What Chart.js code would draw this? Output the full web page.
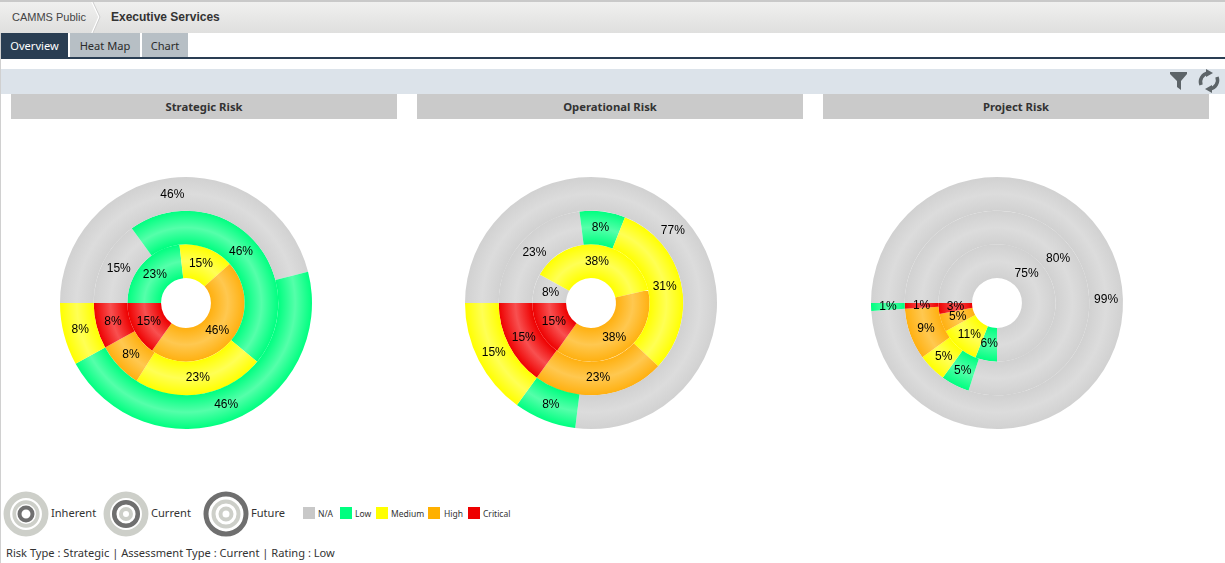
<!DOCTYPE html>
<html>
<head>
<meta charset="utf-8">
<title>Executive Services</title>
<script src="https://cdn.jsdelivr.net/npm/chart.js@4"></script>
<style>
html, body { margin: 0; padding: 0; background: #fff; overflow: hidden; }
body { width: 1225px; height: 563px; position: relative; font-family: "Noto Sans", sans-serif; color: #333; }
.abs { position: absolute; white-space: nowrap; }
.topbar { left: 0; top: 0; width: 1225px; height: 31px; border-top: 2px solid #c9c9c9; background: linear-gradient(#f0f0ef, #dfdfde); }
.crumb { left: 12px; top: 11px; font: 11px "Liberation Sans", sans-serif; color: #444; }
.title { left: 111px; top: 10px; font: bold 12px "Liberation Sans", sans-serif; color: #333; }
.tab { top: 33px; height: 24px; line-height: 25px; text-align: center; font-size: 11.1px; background: #b7bfc5; color: #2b2b2b; }
.tab.on { background: #2a3e53; color: #fff; }
.rule { left: 1px; top: 57px; width: 1224px; height: 2px; background: #2a3e53; }
.band { left: 1px; top: 69px; width: 1224px; height: 25px; background: #dce3ea; }
.edge { left: 0; top: 33px; width: 1px; height: 530px; background: #d0d0d0; }
.head { top: 94px; width: 386px; height: 25px; line-height: 25px; background: #cacaca; text-align: center; font-size: 11.3px; font-weight: bold; color: #333; }
canvas { position: absolute; top: 171px; }
.key { top: 505px; font-size: 11.1px; color: #333; }
.swatch { top: 507px; width: 12px; height: 12px; }
.small { top: 508px; font-size: 8.5px; color: #333; }
.status { left: 6px; top: 545px; font-size: 11.1px; color: #333; }
</style>
</head>
<body>
<div class="abs topbar"></div>
<svg class="abs" style="left:90px;top:2px" width="12" height="31"><path d="M2 0 L9 15 L2 31" fill="none" stroke="#fff" stroke-width="1.5"/><path d="M3 0 L10 15 L3 31" fill="none" stroke="#cfcfcf"/></svg>
<div class="abs crumb">CAMMS Public</div>
<div class="abs title">Executive Services</div>
<div class="abs tab on" style="left:1px;width:67px">Overview</div>
<div class="abs tab" style="left:70px;width:70px">Heat Map</div>
<div class="abs tab" style="left:142px;width:46px">Chart</div>
<div class="abs rule"></div>
<div class="abs band"></div>
<div class="abs edge"></div>
<svg class="abs" style="left:1168px;top:69px" width="54" height="24">
  <path d="M2 3 H19 V5 L13 12 V21 L9 18 V12 L2 5 Z" fill="#5d6468"/>
  <path d="M33 16 A9 9 0 0 1 40 4 M49 8 A9 9 0 0 1 42 20" fill="none" stroke="#5d6468" stroke-width="3.5"/>
  <path d="M38 0 L45 4 L38 8 Z M44 24 L37 20 L44 16 Z" fill="#5d6468"/>
</svg>

<div class="abs head" style="left:11px">Strategic Risk</div>
<div class="abs head" style="left:417px">Operational Risk</div>
<div class="abs head" style="left:823px">Project Risk</div>

<canvas id="strategic" style="left:54px" width="264" height="264"></canvas>
<canvas id="operational" style="left:459px" width="264" height="264"></canvas>
<canvas id="project" style="left:865px" width="264" height="264"></canvas>

<svg class="abs" style="left:2px;top:490px" width="48" height="48">
  <circle cx="24" cy="24" r="19.2" fill="none" stroke="#cdcfc9" stroke-width="6.5"/>
  <circle cx="24" cy="24" r="11.8" fill="none" stroke="#cdcfc9" stroke-width="3.7"/>
  <circle cx="24" cy="24" r="6.5" fill="none" stroke="#6f6f6f" stroke-width="4"/>
</svg>
<div class="abs key" style="left:51px">Inherent</div>
<svg class="abs" style="left:102px;top:490px" width="48" height="48">
  <circle cx="24" cy="24" r="19.2" fill="none" stroke="#cdcfc9" stroke-width="6.5"/>
  <circle cx="24" cy="24" r="11.8" fill="none" stroke="#6f6f6f" stroke-width="4.5"/>
  <circle cx="24" cy="24" r="5" fill="none" stroke="#cdcfc9" stroke-width="4"/>
</svg>
<div class="abs key" style="left:151px">Current</div>
<svg class="abs" style="left:202px;top:490px" width="48" height="48">
  <circle cx="24" cy="24" r="20" fill="none" stroke="#6f6f6f" stroke-width="5"/>
  <circle cx="24" cy="24" r="12.5" fill="none" stroke="#cdcfc9" stroke-width="4"/>
  <circle cx="24" cy="24" r="5.5" fill="none" stroke="#cdcfc9" stroke-width="4"/>
</svg>
<div class="abs key" style="left:251px">Future</div>

<div id="legend"></div>
<div class="abs status">Risk Type : Strategic | Assessment Type : Current | Rating : Low</div>

<script>
var levels = ['N/A', 'Low', 'Medium', 'High', 'Critical'];
var assessments = ['Future', 'Current', 'Inherent'];

// percentages per level, in the order of levels
var strategicFuture = [46, 46, 8, 0, 0];
var strategicCurrent = [15, 46, 23, 8, 8];
var strategicInherent = [0, 23, 15, 46, 15];

var operationalFuture = [77, 8, 15, 0, 0];
var operationalCurrent = [23, 8, 31, 23, 15];
var operationalInherent = [8, 0, 38, 38, 15];

var projectFuture = [99, 1, 0, 0, 0];
var projectCurrent = [80, 5, 5, 9, 1];
var projectInherent = [75, 6, 11, 5, 3];

var baseColors = ['#d1d1d1', '#00ff80', '#ffff00', '#ffb010', '#ee0000'];
var glossColors = ['#dcdcdc', '#55ffaa', '#ffff55', '#ffc850', '#f85050'];
var swatchColors = ['#c8c8c8', '#00ff80', '#ffff00', '#ffb000', '#ee0000'];
var swatchLeft = [303, 340, 376, 428, 468];
var swatchText = [318, 355, 391, 444, 483];

// glossy band along the middle of each ring
function ringFill(context) {
    var chart = context.chart;
    var area = chart.chartArea;
    var ctrl = chart.getDatasetMeta(context.datasetIndex).controller;
    // radii are not known yet on the first pass
    if (!area || !isFinite(ctrl.innerRadius) || !isFinite(ctrl.outerRadius)) return baseColors[context.dataIndex];
    var x = (area.left + area.right) / 2;
    var y = (area.top + area.bottom) / 2;
    var g = chart.ctx.createRadialGradient(x, y, ctrl.innerRadius, x, y, ctrl.outerRadius);
    g.addColorStop(0, baseColors[context.dataIndex]);
    g.addColorStop(0.5, glossColors[context.dataIndex]);
    g.addColorStop(1, baseColors[context.dataIndex]);
    return g;
}

var percentLabels = {
    id: 'percentLabels',
    afterDatasetsDraw: function (chart) {
        var ctx = chart.ctx;
        ctx.save();
        ctx.font = '12px "Liberation Sans", Arial, sans-serif';
        ctx.fillStyle = '#000';
        ctx.textAlign = 'center';
        ctx.textBaseline = 'middle';
        chart.data.datasets.forEach(function (set, i) {
            chart.getDatasetMeta(i).data.forEach(function (arc, j) {
                if (!set.data[j]) return;
                var p = arc.tooltipPosition();
                ctx.fillText(set.data[j] + '%', p.x, p.y);
            });
        });
        ctx.restore();
    }
};

function makeRisk(id, future, current, inherent) {
    var rings = [future, current, inherent];
    new Chart(document.getElementById(id), {
        type: 'doughnut',
        data: {
            labels: levels,
            datasets: rings.map(function (values, i) {
                return { label: assessments[i], data: values, backgroundColor: ringFill, borderWidth: 0 };
            })
        },
        options: {
            responsive: false,
            animation: false,
            rotation: 270,
            cutout: '19.8%',
            layout: { padding: 6 },
            plugins: { legend: { display: false }, tooltip: { enabled: false } }
        },
        plugins: [percentLabels]
    });
}

makeRisk('strategic', strategicFuture, strategicCurrent, strategicInherent);
makeRisk('operational', operationalFuture, operationalCurrent, operationalInherent);
makeRisk('project', projectFuture, projectCurrent, projectInherent);

// level legend
var legend = document.getElementById('legend');
levels.forEach(function (name, i) {
    var box = document.createElement('div');
    box.className = 'abs swatch';
    box.style.left = swatchLeft[i] + 'px';
    box.style.background = swatchColors[i];
    legend.appendChild(box);
    var txt = document.createElement('div');
    txt.className = 'abs small';
    txt.style.left = swatchText[i] + 'px';
    txt.textContent = name;
    legend.appendChild(txt);
});
</script>
</body>
</html>
